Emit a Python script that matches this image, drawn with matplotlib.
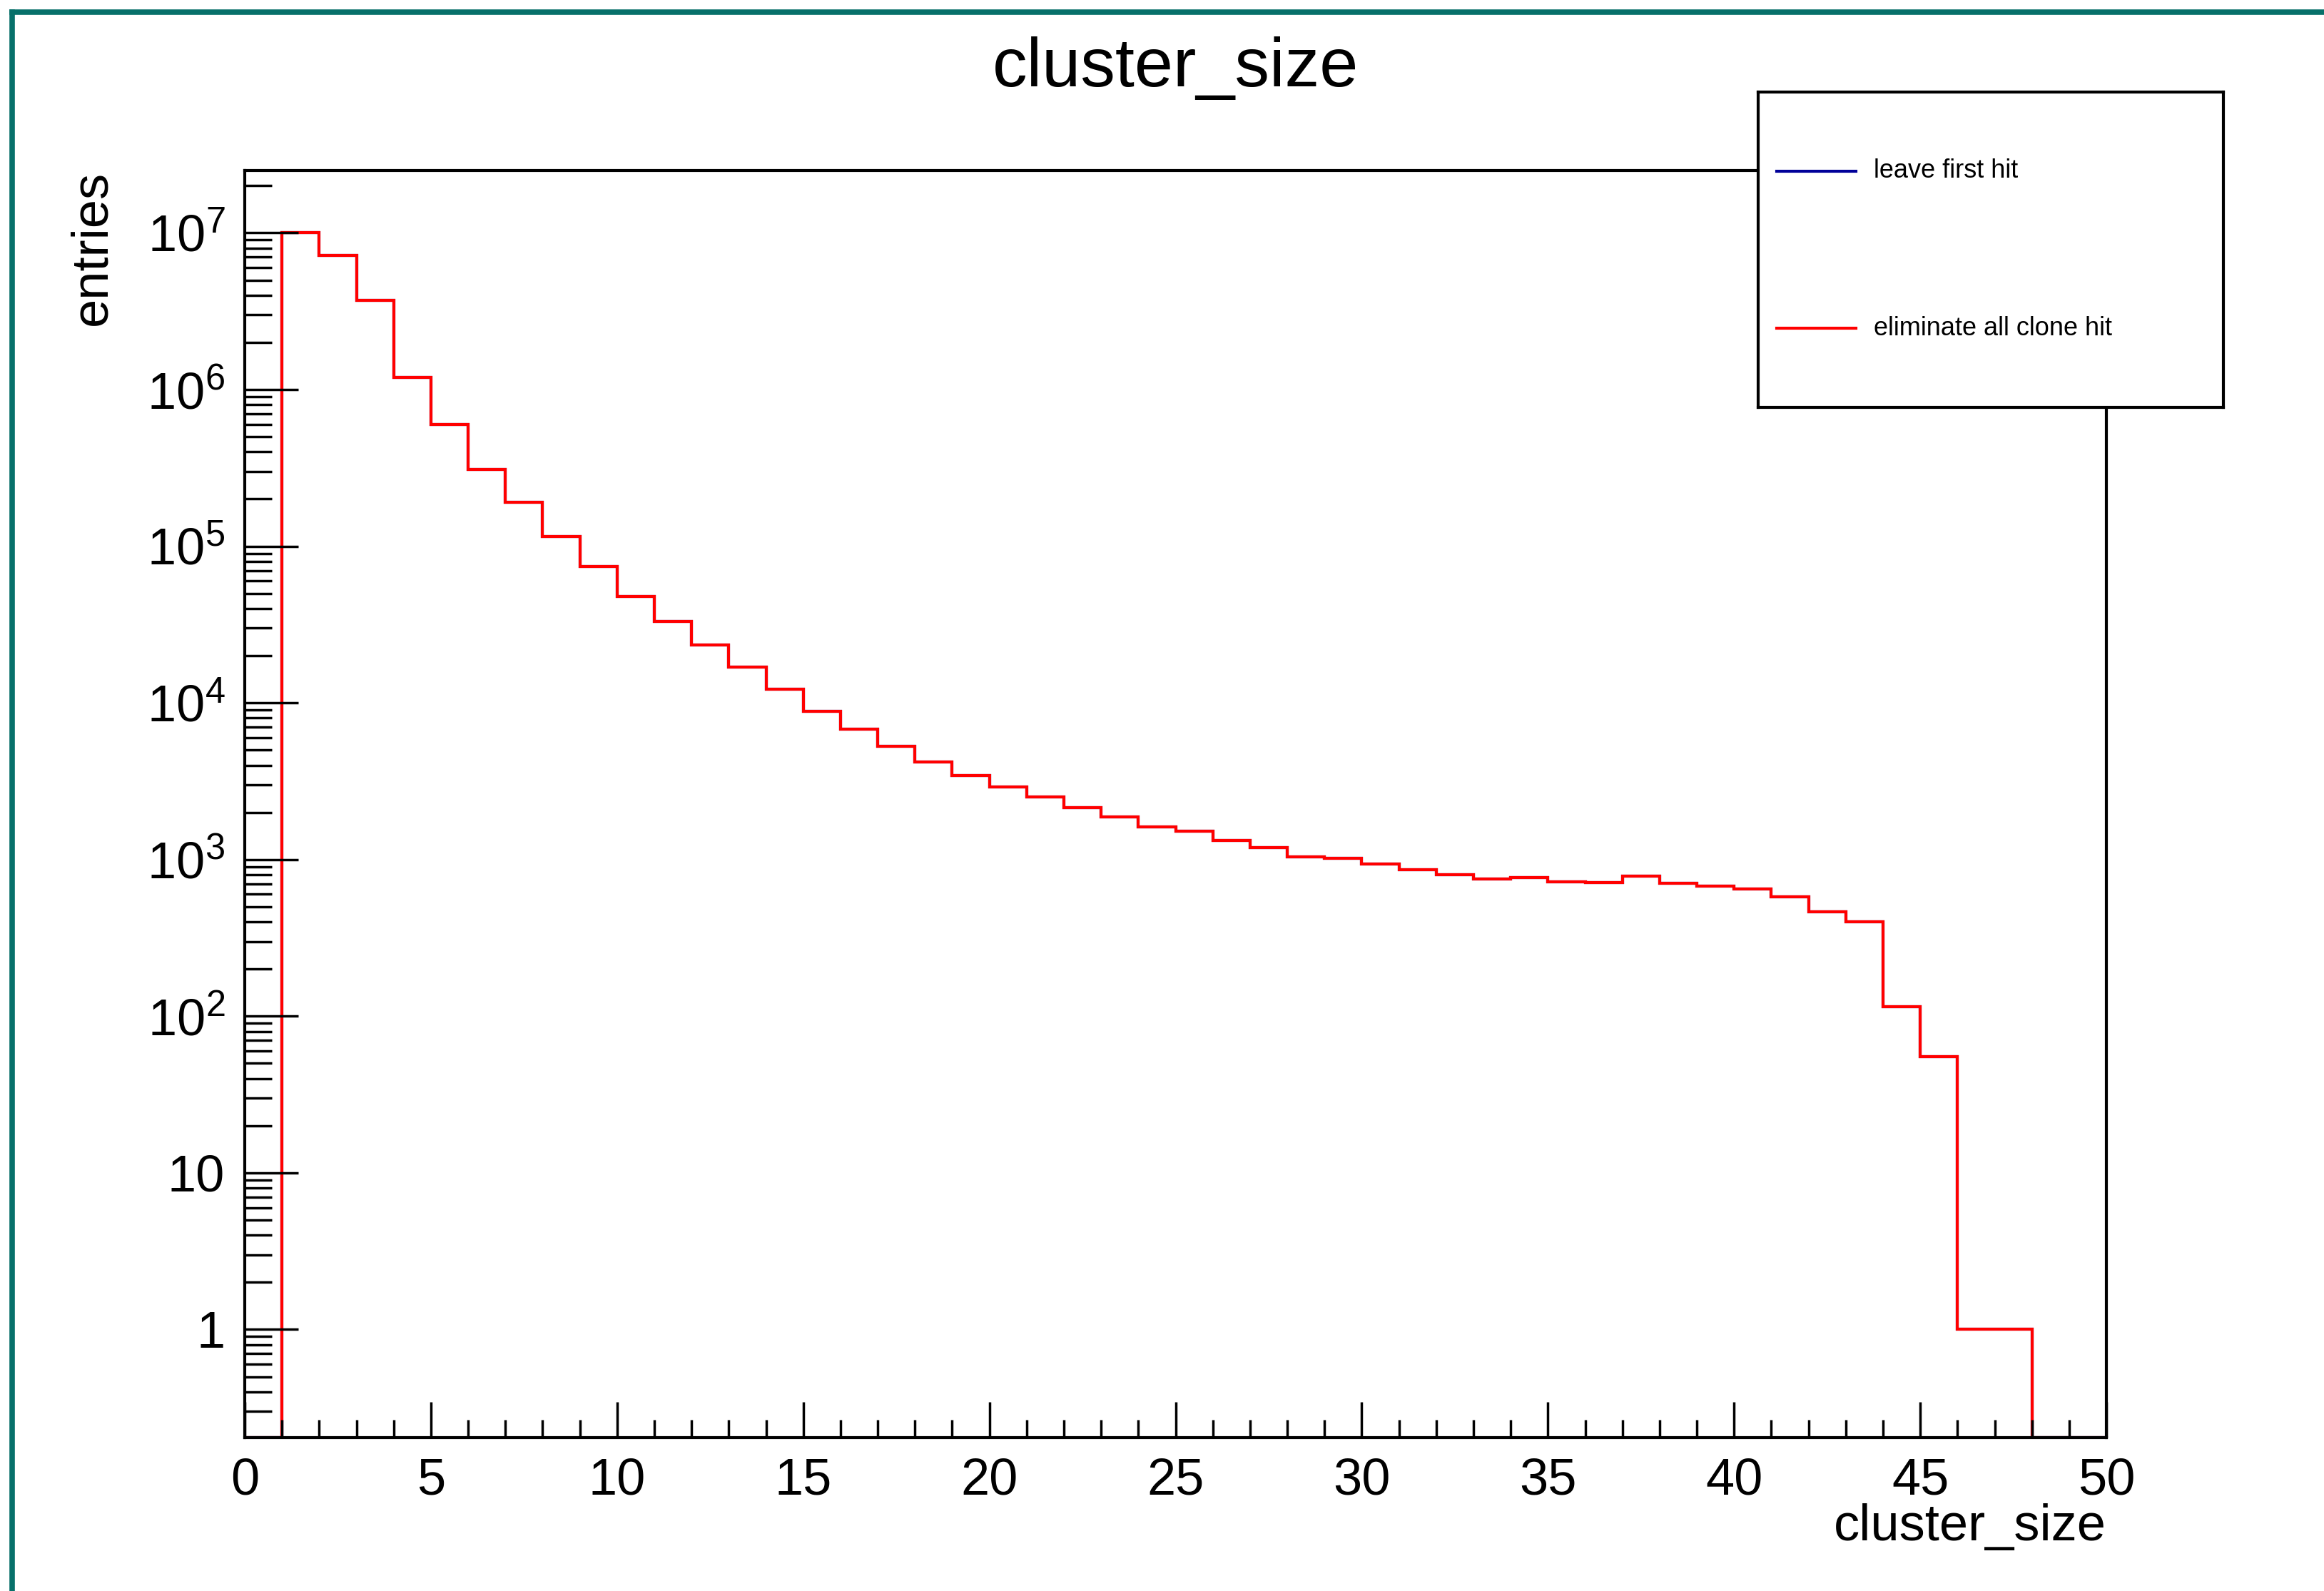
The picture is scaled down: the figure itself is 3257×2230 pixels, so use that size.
import numpy as np
import matplotlib.pyplot as plt
from matplotlib.lines import Line2D
from matplotlib.ticker import FixedLocator, FuncFormatter, LogLocator, NullFormatter, MultipleLocator

plt.rcParams['font.family'] = ['Liberation Sans', 'DejaVu Sans']
plt.rcParams['mathtext.fontset'] = 'custom'
plt.rcParams['mathtext.rm'] = 'Liberation Sans'
plt.rcParams['mathtext.it'] = 'Liberation Sans'
plt.rcParams['mathtext.default'] = 'regular'

# histogram: 50 bins of width 1 from 0 to 50
edges = np.arange(0, 51)
eliminate_all_clone = [
    0, 1.0e7, 7.2e6, 3.7e6, 1.19e6, 6.0e5, 3.1e5, 1.9e5, 1.15e5, 7.4e4,
    4.8e4, 3.3e4, 2.35e4, 1.69e4, 1.22e4, 8.8e3, 6.8e3, 5.3e3, 4.2e3, 3.45e3,
    2.9e3, 2.5e3, 2.14e3, 1.88e3, 1.61e3, 1.51e3, 1.32e3, 1.19e3, 1.04e3, 1.02e3,
    935, 858, 802, 751, 768, 719, 716, 785, 704, 674,
    646, 579, 465, 400, 115, 55, 1, 1, 0, 0]
# hidden under the red one in the picture
leave_first_hit = list(eliminate_all_clone)

labels = ["leave first hit", "eliminate all clone hit"]
colors = ["#000099", "#ff0000"]

ymin, ymax = 0.204, 2.5e7

fig = plt.figure(figsize=(32.57, 22.30), dpi=100)
ax = fig.add_axes([0.1053, 0.0964, 0.9064 - 0.1053, 0.8928 - 0.0964])

for vals, c in zip([leave_first_hit, eliminate_all_clone], colors):
    v = np.clip(np.array(vals, dtype=float), ymin, None)
    ax.stairs(v, edges, baseline=ymin, color=c, linewidth=3.0)

ax.set_yscale('log')
ax.set_xlim(0, 50)
ax.set_ylim(ymin, ymax)

for s in ['left', 'bottom', 'right', 'top']:
    ax.spines[s].set_linewidth(3.0)

ax.xaxis.set_major_locator(MultipleLocator(5))
ax.xaxis.set_minor_locator(MultipleLocator(1))
ax.tick_params(axis='x', which='major', direction='in', length=36, width=2.5,
               labelsize=52, pad=20, top=False)
ax.tick_params(axis='x', which='minor', direction='in', length=18, width=2.5, top=False)

ax.yaxis.set_major_locator(FixedLocator([10.0 ** k for k in range(0, 8)]))
ax.yaxis.set_minor_locator(LogLocator(base=10, subs=np.arange(2, 10), numticks=30))
ax.yaxis.set_minor_formatter(NullFormatter())


def ylab(v, pos):
    k = int(round(np.log10(v)))
    if k == 0:
        return "1"
    if k == 1:
        return "10"
    return r"$10^{%d}$" % k


ax.yaxis.set_major_formatter(FuncFormatter(ylab))
ax.tick_params(axis='y', which='major', direction='in', length=54, width=2.5,
               labelsize=52, pad=20, right=False)
ax.tick_params(axis='y', which='minor', direction='in', length=27, width=2.5, right=False)

ax.set_xlabel("cluster_size", fontsize=52, loc='right')
ax.xaxis.set_label_coords(1.0, -0.052)
ax.set_ylabel("entries", fontsize=52, loc='top')
ax.yaxis.set_label_coords(-0.069, 1.0)

fig.text(0.5057, 0.957, "cluster_size", fontsize=70, ha='center', va='center')

# legend box
lax = fig.add_axes([0.7565, 0.744, 0.9567 - 0.7565, 0.942 - 0.744])
lax.set_xlim(0, 1)
lax.set_ylim(0, 1)
lax.set_xticks([])
lax.set_yticks([])
for s in lax.spines.values():
    s.set_linewidth(3.0)
for i, (lab, c) in enumerate(zip(labels, colors)):
    yy = 0.75 - 0.5 * i
    lax.plot([0.04, 0.21], [yy, yy], color=c, linewidth=3.0)
    lax.text(0.248, yy, lab, fontsize=26, va='center', ha='left')

# teal canvas frame
teal = "#07706a"
fig.add_artist(Line2D([17 / 3257, 17 / 3257], [0, 1 - 17 / 2230], color=teal, linewidth=5.5,
                      transform=fig.transFigure))
fig.add_artist(Line2D([17 / 3257, 1], [1 - 17 / 2230, 1 - 17 / 2230], color=teal, linewidth=5.5,
                      transform=fig.transFigure))

fig.savefig("out.png", dpi=100)
